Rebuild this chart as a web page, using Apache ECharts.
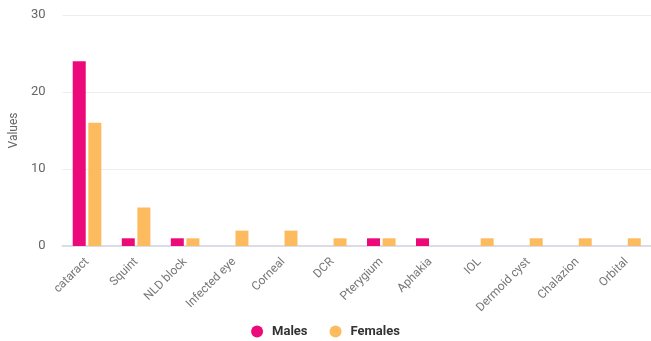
<!DOCTYPE html>
<html>
<head>
<meta charset="utf-8">
<script src="https://cdn.jsdelivr.net/npm/echarts@6/dist/echarts.min.js"></script>
<style>
html,body{margin:0;padding:0;background:#fff;}
#chart{width:651px;height:341px;}
</style>
</head>
<body>
<div id="chart"></div>
<script>
// Eye conditions by sex
const categories = ['cataract', 'Squint', 'NLD block', 'Infected eye', 'Corneal', 'DCR', 'Pterygium', 'Aphakia', 'IOL', 'Dermoid cyst', 'Chalazion', 'Orbital'];
const males   = [24, 1, 1, 0, 0, 0, 1, 1, 0, 0, 0, 0];
const females = [16, 5, 1, 2, 2, 1, 1, 0, 1, 1, 1, 1];
const seriesNames = ['Males', 'Females'];
const colors = ['#ec0a7b', '#fdbb5f'];

const chart = echarts.init(document.getElementById('chart'), null, {renderer: 'canvas'});
chart.setOption({
  animation: false,
  textStyle: {fontFamily: 'Roboto, sans-serif'},
  color: colors,
  grid: {left: 61, right: -4, top: 15, bottom: 95},
  legend: {
    bottom: 3,
    left: 'center',
    padding: [0, 5],
    icon: 'circle',
    itemWidth: 20,
    itemHeight: 12,
    itemGap: 22,
    textStyle: {fontSize: 13, fontWeight: 'bold', color: '#333'},
    data: seriesNames
  },
  xAxis: {
    type: 'category',
    data: categories,
    axisLine: {lineStyle: {color: '#dcdce8', width: 2}},
    axisTick: {show: false},
    axisLabel: {rotate: 45, color: '#777', fontSize: 12, interval: 0, margin: 14}
  },
  yAxis: {
    type: 'value',
    min: 0, max: 30, interval: 10,
    name: 'Values',
    nameLocation: 'middle',
    nameGap: 34,
    nameTextStyle: {color: '#666', fontSize: 12},
    axisLabel: {color: '#666', fontSize: 13, margin: 17},
    splitLine: {lineStyle: {color: '#ececf2'}},
    axisLine: {show: false},
    axisTick: {show: false}
  },
  series: [
    {name: seriesNames[0], type: 'bar', data: males, barWidth: 13, barGap: '20%'},
    {name: seriesNames[1], type: 'bar', data: females, barWidth: 13, barGap: '20%'}
  ]
});
</script>
</body>
</html>
